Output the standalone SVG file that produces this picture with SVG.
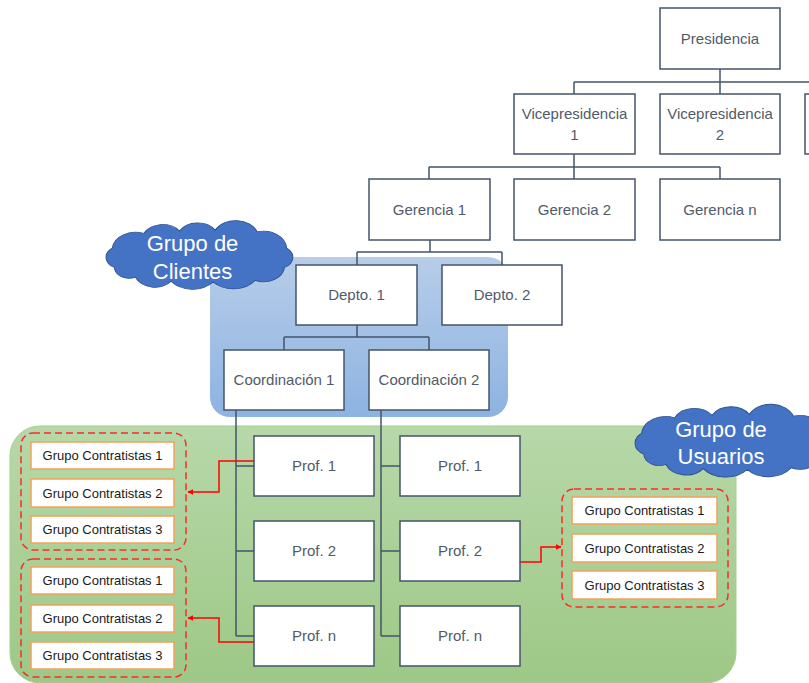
<svg xmlns="http://www.w3.org/2000/svg" width="809" height="683" viewBox="0 0 809 683">
<style>
.box{fill:#fff;stroke:#44546a;stroke-width:1.5}
.t{font-family:"Liberation Sans",Arial,sans-serif;font-size:15px;fill:#515b68;text-anchor:middle}
.ln{fill:none;stroke:#44546a;stroke-width:1.5}
.gc{fill:#fff;stroke:#f5a05a;stroke-width:1.5}
.gt{font-family:"Liberation Sans",Arial,sans-serif;font-size:13px;fill:#1a1a1a;text-anchor:middle}
.dash{fill:none;stroke:#ff2a2a;stroke-width:1.5;stroke-dasharray:7 4}
.red{fill:none;stroke:#ff0000;stroke-width:1.5}
.cloud{fill:#4472c4;stroke:#2f528f;stroke-width:1}
.ct{font-family:"Liberation Sans",Arial,sans-serif;font-size:22px;fill:#fff;text-anchor:middle}
</style>
<defs>
<linearGradient id="gBlue" x1="0" y1="0" x2="0" y2="1">
<stop offset="0" stop-color="#b7cde9"/>
<stop offset="1" stop-color="#8db3e1"/>
</linearGradient>
<linearGradient id="gGreen" x1="0" y1="0" x2="0" y2="1">
<stop offset="0" stop-color="#b7d8a9"/>
<stop offset="1" stop-color="#9dc886"/>
</linearGradient>
<marker id="arr" viewBox="0 0 10 10" refX="9" refY="5" markerWidth="6" markerHeight="6" orient="auto" markerUnits="userSpaceOnUse">
<path d="M0,0 L10,5 L0,10 Z" fill="#ff0000"/>
</marker>
<path id="cloudShape" d="M14,50 A14,14 0 0 1 12,26 A22,22 0 0 1 42,8 A20,20 0 0 1 76,5 A20,20 0 0 1 110,4 A22,22 0 0 1 150,6 A22,22 0 0 1 178,26 A14,14 0 0 1 176,50 A20,20 0 0 1 148,66 A26,26 0 0 1 108,68 A26,26 0 0 1 68,67 A20,20 0 0 1 34,62 A14,14 0 0 1 14,50 Z"/>
</defs>

<g id="regions">
<rect id="blue-region" x="210" y="257" width="298" height="160" rx="20" fill="url(#gBlue)"/>
<rect id="green-region" x="10" y="426" width="726" height="257" rx="30" fill="url(#gGreen)" stroke="#a6cf90" stroke-width="1"/>
</g>

<g id="connectors">
<path class="ln" d="M720,69 V82 M574,82 H809 M574,82 V94 M720,82 V94"/>
<path class="ln" d="M574,154 V167 M429,167 H720 M429,167 V179 M574,167 V179 M720,167 V179"/>
<path class="ln" d="M430,240 V252 M357,252 H502 M357,252 V265 M502,252 V265"/>
<path class="ln" d="M357,325 V337 M284,337 H429 M284,337 V350 M429,337 V350"/>
<path class="ln" d="M236,410 V636 M236,466 H254 M236,551 H254 M236,636 H254"/>
<path class="ln" d="M381,410 V636 M381,466 H400 M381,551 H400 M381,636 H400"/>
<path class="red" d="M254,461 H219 V492 H188" marker-end="url(#arr)"/>
<path class="red" d="M254,642 H219 V618 H188" marker-end="url(#arr)"/>
<path class="red" d="M519,562 H541 V547 H561" marker-end="url(#arr)"/>
</g>

<g id="presidencia"><rect class="box" x="660" y="8" width="120" height="61"/><text class="t" x="720" y="44">Presidencia</text></g>
<g id="vp1"><rect class="box" x="514" y="94" width="121" height="60"/><text class="t" x="574.5" y="119">Vicepresidencia</text><text class="t" x="574.5" y="140">1</text></g>
<g id="vp2"><rect class="box" x="660" y="94" width="120" height="60"/><text class="t" x="720" y="119">Vicepresidencia</text><text class="t" x="720" y="140">2</text></g>
<g id="vp3"><rect class="box" x="805" y="94" width="120" height="60"/></g>

<g id="gerencia1"><rect class="box" x="369" y="179" width="121" height="61"/><text class="t" x="429.5" y="215">Gerencia 1</text></g>
<g id="gerencia2"><rect class="box" x="514" y="179" width="121" height="61"/><text class="t" x="574.5" y="215">Gerencia 2</text></g>
<g id="gerencian"><rect class="box" x="660" y="179" width="120" height="61"/><text class="t" x="720" y="215">Gerencia n</text></g>

<g id="depto1"><rect class="box" x="296" y="265" width="121" height="60"/><text class="t" x="356.5" y="300">Depto. 1</text></g>
<g id="depto2"><rect class="box" x="442" y="265" width="120" height="60"/><text class="t" x="502" y="300">Depto. 2</text></g>

<g id="coord1"><rect class="box" x="224" y="350" width="120" height="60"/><text class="t" x="284" y="385">Coordinación 1</text></g>
<g id="coord2"><rect class="box" x="369" y="350" width="120" height="60"/><text class="t" x="429" y="385">Coordinación 2</text></g>

<g id="prof1a"><rect class="box" x="254" y="436" width="120" height="60"/><text class="t" x="314" y="471">Prof. 1</text></g>
<g id="prof2a"><rect class="box" x="254" y="521" width="120" height="60"/><text class="t" x="314" y="556">Prof. 2</text></g>
<g id="profna"><rect class="box" x="254" y="606" width="120" height="60"/><text class="t" x="314" y="641">Prof. n</text></g>
<g id="prof1b"><rect class="box" x="400" y="436" width="120" height="60"/><text class="t" x="460" y="471">Prof. 1</text></g>
<g id="prof2b"><rect class="box" x="400" y="521" width="120" height="60"/><text class="t" x="460" y="556">Prof. 2</text></g>
<g id="profnb"><rect class="box" x="400" y="606" width="120" height="60"/><text class="t" x="460" y="641">Prof. n</text></g>

<g id="grupoA">
<rect class="dash" x="21" y="433" width="165" height="117" rx="12"/>
<rect class="gc" x="31" y="442" width="143" height="27"/><text class="gt" x="102.5" y="460">Grupo Contratistas 1</text>
<rect class="gc" x="31" y="479" width="143" height="28"/><text class="gt" x="102.5" y="497.5">Grupo Contratistas 2</text>
<rect class="gc" x="31" y="516" width="143" height="27"/><text class="gt" x="102.5" y="534">Grupo Contratistas 3</text>
</g>
<g id="grupoB">
<rect class="dash" x="21" y="559" width="165" height="118" rx="12"/>
<rect class="gc" x="31" y="567" width="143" height="27"/><text class="gt" x="102.5" y="585">Grupo Contratistas 1</text>
<rect class="gc" x="31" y="605" width="143" height="27"/><text class="gt" x="102.5" y="623">Grupo Contratistas 2</text>
<rect class="gc" x="31" y="642" width="143" height="27"/><text class="gt" x="102.5" y="660">Grupo Contratistas 3</text>
</g>
<g id="grupoC">
<rect class="dash" x="562" y="489" width="166" height="118" rx="12"/>
<rect class="gc" x="572" y="497" width="145" height="27"/><text class="gt" x="644.5" y="515">Grupo Contratistas 1</text>
<rect class="gc" x="572" y="534" width="145" height="28"/><text class="gt" x="644.5" y="552.5">Grupo Contratistas 2</text>
<rect class="gc" x="572" y="571" width="145" height="28"/><text class="gt" x="644.5" y="589.5">Grupo Contratistas 3</text>
</g>

<g id="cloud-clientes">
<use href="#cloudShape" class="cloud" transform="translate(99.7,227) scale(1.05,0.81)" vector-effect="non-scaling-stroke"/>
<text class="ct" x="192.5" y="251">Grupo de</text>
<text class="ct" x="192.5" y="279">Clientes</text>
</g>
<g id="cloud-usuarios">
<use href="#cloudShape" class="cloud" transform="translate(628.4,411) scale(1.1,0.86)" vector-effect="non-scaling-stroke"/>
<text class="ct" x="721" y="437">Grupo de</text>
<text class="ct" x="721" y="464">Usuarios</text>
</g>
</svg>
